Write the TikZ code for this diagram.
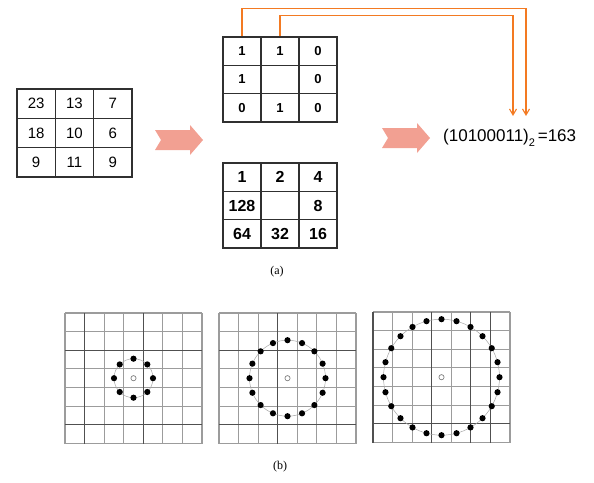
\documentclass[tikz,border=0pt]{standalone}
\usepackage{fontspec}
\setmainfont{Liberation Sans}
\newfontfamily\serifface{Liberation Serif}
\usetikzlibrary{arrows.meta}

\definecolor{cellline}{HTML}{303030}
\definecolor{bitline}{HTML}{F37A22}
\definecolor{salmon}{HTML}{F2A092}
\definecolor{gridlight}{HTML}{9C9C9C}
\definecolor{griddark}{HTML}{505050}

\begin{document}
\begin{tikzpicture}[x=1pt,y=-1pt,
  cellL/.style={draw=cellline, line width=1.4pt, minimum width=38.33pt,
    minimum height=29.33pt, inner sep=0pt, font=\fontsize{15}{15}\selectfont},
  cellB/.style={draw=cellline, line width=1.4pt, minimum width=38pt,
    minimum height=28.33pt, inner sep=0pt, font=\bfseries\fontsize{13}{13}\selectfont},
  cellW/.style={draw=cellline, line width=1.4pt, minimum width=38pt,
    minimum height=28.33pt, inner sep=0pt, font=\bfseries\fontsize{16}{16}\selectfont},
  bitwire/.style={draw=bitline, line width=1.1pt, -{Straight Barb[length=6pt,width=7pt]}},
  lbl/.style={font=\serifface\fontsize{12}{12}\selectfont},
  gl/.style={draw=gridlight, line width=1.1pt},
  gd/.style={draw=griddark, line width=1.1pt},
  dot/.style={fill=black},
  pics/fatarrow/.style={code={
    \fill[salmon] (0,-10) -- (35,-10) -- (35,-15) -- (48,0) -- (35,15)
      -- (35,10) -- (0,10) -- (6,0) -- cycle;}}
]
\useasboundingbox (0,0) rectangle (594,482);

% input neighbourhood
\foreach \v [count=\k from 0] in {23,13,7,18,10,6,9,11,9} {
  \pgfmathtruncatemacro\c{mod(\k,3)}
  \pgfmathtruncatemacro\r{div(\k,3)}
  \node[cellL] (g\r\c) at (17+38.33*\c+19.17, 89+29.33*\r+14.67) {\v};
}

% thresholded bits
\foreach \v [count=\k from 0] in {1,1,0,1,{},0,0,1,0} {
  \pgfmathtruncatemacro\c{mod(\k,3)}
  \pgfmathtruncatemacro\r{div(\k,3)}
  \node[cellB] (b\r\c) at (223+38*\c+19, 37+28.33*\r+14.17) {\v};
}

% binary weights
\foreach \v [count=\k from 0] in {1,2,4,128,{},8,64,32,16} {
  \pgfmathtruncatemacro\c{mod(\k,3)}
  \pgfmathtruncatemacro\r{div(\k,3)}
  \node[cellW] (w\r\c) at (223+38*\c+19, 163+28.33*\r+14.17) {\v};
}

% block arrows
\pic (arrA) at (155,140) {fatarrow};
\pic (arrB) at (382,138) {fatarrow};

% resulting code
\node[anchor=west, inner sep=0pt, font=\fontsize{17}{17}\selectfont] (res) at (443,138)
  {(10100011)\raisebox{-5pt}{\fontsize{11}{11}\selectfont 2}\,=163};

\coordinate (t1) at (526,116);
\coordinate (t2) at (513,116);
\draw[bitwire] (b00.north) -- ++(0,-28) -| (t1);
\draw[bitwire] (b01.north) -- ++(0,-21) -| (t2);

\node[lbl] (la) at (277,272) {(a)};

% circular sampling grids
\foreach \gx/\gy/\rad/\n/\dv/\dh [count=\q] in
  {65/313/19.5/8/{1,4}/{2,6}, 219/313/38/16/{3}/{2,6}, 373/312/58/24/{0,3,5,6}/{6}} {
  \begin{scope}[shift={(\gx,\gy)}]
    \foreach \i in {0,...,7} {
      \draw[gl] (\i*19.57,0) -- (\i*19.57,130.5);
      \draw[gl] (0,\i*18.64) -- (137,\i*18.64);
    }
    \foreach \i in \dv { \draw[gd] (\i*19.57,0) -- (\i*19.57,130.5); }
    \foreach \i in \dh { \draw[gd] (0,\i*18.64) -- (137,\i*18.64); }
    \coordinate (c\q) at (68.5,65.2);
    \draw[gray!70, line width=0.5pt] (c\q) circle (\rad);
    \pgfmathsetmacro\stp{360/\n}
    \foreach \j in {1,...,\n} {
      \fill[dot] (c\q) ++(\j*\stp:\rad) circle (3.1);
    }
    \draw[gray, line width=0.7pt] (c\q) circle (2.6);
  \end{scope}
}

\node[lbl] (lb) at (280,467) {(b)};
\end{tikzpicture}
\end{document}
